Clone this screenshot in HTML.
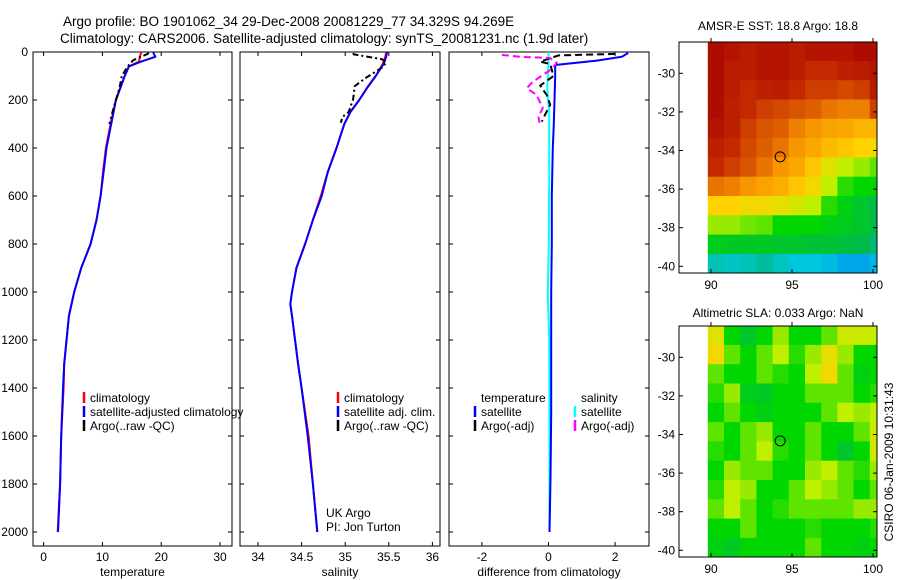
<!DOCTYPE html>
<html><head><meta charset="utf-8"><style>
html,body{margin:0;padding:0;background:#fff;}
svg{display:block;font-family:"Liberation Sans",Arial,sans-serif;}
</style></head><body>
<svg id="fig" width="900" height="580" viewBox="0 0 900 580" xmlns="http://www.w3.org/2000/svg">
<rect x="0" y="0" width="900" height="580" fill="#fff"/>
<text x="63" y="26" font-size="13.5">Argo profile: BO 1901062_34 29-Dec-2008 20081229_77 34.329S 94.269E</text>
<text x="60" y="43" font-size="13.5">Climatology: CARS2006. Satellite-adjusted climatology: synTS_20081231.nc (1.9d later)</text>
<text x="778" y="30" font-size="12" text-anchor="middle">AMSR-E SST: 18.8 Argo: 18.8</text>
<text x="778" y="317" font-size="12" text-anchor="middle">Altimetric SLA: 0.033 Argo: NaN</text>
<text transform="translate(893,462) rotate(-90)" font-size="12" text-anchor="middle">CSIRO 06-Jan-2009 10:31:43</text>
<g id="plots"></g>
</svg>
<script>
// ---- profile data ----
const depthClim = [0,20,40,60,100,200,300,400,500,600,700,800,900,1000,1100,1300,1400,1600,1800,2000];
const tempSat   = [18.6,19.0,16.6,14.5,13.8,12.3,11.5,10.7,10.2,9.7,9.0,8.0,6.4,5.2,4.3,3.5,3.3,3.0,2.8,2.45];
const tempClim  = [16.6,16.4,16.2,14.5,13.8,12.3,11.4,10.6,10.1,9.7,9.0,8.0,6.4,5.2,4.3,3.5,3.4,3.0,2.8,2.4];
const depthSal  = [0,20,50,100,150,200,250,300,400,500,600,700,800,900,1000,1050,1100,1300,1400,1600,1800,2000];
const salSat    = [35.48,35.47,35.44,35.35,35.25,35.16,35.06,34.99,34.9,34.8,34.73,34.63,34.54,34.44,34.39,34.37,34.39,34.46,34.5,34.57,34.63,34.68];
const salClim   = [35.47,35.46,35.43,35.35,35.25,35.16,35.06,34.99,34.9,34.8,34.72,34.63,34.54,34.44,34.39,34.37,34.39,34.46,34.5,34.58,34.63,34.68];
const depthArgoT = [5,10,20,35,60,100,150,200,270,300];
const tempArgo   = [17.9,17.5,16.5,15.2,14.3,13.3,12.9,12.3,11.5,11.2];
const depthArgoS = [5,10,30,40,61,109,142,200,228,250,270,295];
const salArgo    = [35.09,35.1,35.42,35.47,35.44,35.23,35.11,35.09,35.06,35.04,34.97,34.95];
const depthDiff  = [4,20,36,54,100,200,300,400,600,800,1000,1300,1500,1780,2000];
const diffTSat   = [2.39,2.2,1.45,0.2,0.2,0.18,0.16,0.13,0.1,0.1,0.08,0.08,0.08,0.06,0.03];
const depthDiffS = [0,50,150,250,500,800,1000,1200,1600,2000];
const diffSSat   = [0.0,0.0,-0.04,0.02,0.02,0.01,-0.02,0.02,0.03,0.03];
const depthDiffAT = [8,14,40,50,100,140,180,220,260,290];
const diffTArgo   = [2.0,0.3,-0.25,0.05,0.15,-0.25,-0.05,0.05,-0.1,-0.2];
const depthDiffAS = [12,20,25,46,75,124,150,179,233,270,295];
const diffSArgo   = [-1.4,-0.85,0.05,0.25,0.05,-0.47,-0.65,-0.36,-0.17,-0.3,-0.27];
const depthTicks = [0,200,400,600,800,1000,1200,1400,1600,1800,2000];
const tempTicks = [0,10,20,30];
const salTicks = ["34","34.5","35","35.5","36"];
const diffTicks = [-2,0,2];
// ---- map data (1-degree cells, colour index 0..1) ----
const mapLats = [-28.86,-29.86,-30.86,-31.86,-32.86,-33.86,-34.86,-35.86,-36.86,-37.86,-38.86,-39.86];
const mapLons = [90.3,91.3,92.3,93.3,94.3,95.3,96.3,97.3,98.3,99.3,100.3];
const sstGrid = [
[0.97,0.95,0.93,0.95,0.95,0.93,0.95,0.95,0.95,0.97,0.97],
[0.97,0.93,0.93,0.95,0.95,0.93,0.9,0.9,0.92,0.93,0.95],
[0.97,0.93,0.9,0.92,0.93,0.9,0.88,0.88,0.87,0.88,0.93],
[0.97,0.92,0.9,0.88,0.87,0.86,0.85,0.83,0.82,0.82,0.88],
[0.95,0.92,0.88,0.86,0.85,0.82,0.8,0.78,0.77,0.75,0.75],
[0.92,0.9,0.87,0.85,0.83,0.8,0.77,0.74,0.72,0.7,0.68],
[0.9,0.88,0.86,0.83,0.8,0.77,0.72,0.65,0.6,0.58,0.55],
[0.83,0.82,0.8,0.78,0.76,0.72,0.68,0.6,0.52,0.5,0.5],
[0.7,0.7,0.68,0.68,0.66,0.63,0.6,0.52,0.48,0.45,0.42],
[0.58,0.58,0.56,0.55,0.5,0.5,0.5,0.48,0.47,0.45,0.42],
[0.47,0.46,0.46,0.46,0.45,0.45,0.44,0.44,0.43,0.42,0.38],
[0.33,0.32,0.33,0.35,0.32,0.3,0.3,0.28,0.25,0.25,0.27]];
const slaGrid = [
[0.65,0.5,0.45,0.5,0.58,0.5,0.5,0.55,0.62,0.62,0.6],
[0.68,0.55,0.5,0.55,0.6,0.52,0.58,0.66,0.58,0.5,0.5],
[0.55,0.5,0.5,0.55,0.52,0.5,0.6,0.68,0.55,0.48,0.5],
[0.52,0.58,0.47,0.46,0.5,0.5,0.55,0.55,0.55,0.5,0.52],
[0.5,0.55,0.5,0.48,0.5,0.5,0.5,0.55,0.6,0.58,0.6],
[0.55,0.5,0.55,0.58,0.5,0.5,0.55,0.5,0.5,0.55,0.62],
[0.52,0.5,0.55,0.6,0.52,0.5,0.55,0.5,0.45,0.5,0.62],
[0.5,0.58,0.55,0.55,0.5,0.5,0.58,0.6,0.55,0.52,0.58],
[0.52,0.6,0.58,0.5,0.5,0.55,0.6,0.58,0.55,0.5,0.55],
[0.55,0.6,0.55,0.5,0.52,0.55,0.55,0.55,0.55,0.58,0.58],
[0.5,0.5,0.55,0.5,0.5,0.5,0.52,0.5,0.5,0.5,0.52],
[0.48,0.46,0.5,0.5,0.5,0.5,0.55,0.5,0.5,0.48,0.5]];
const argoLon = 94.269, argoLat = -34.329;
const latTicks = [-30,-32,-34,-36,-38,-40];
const lonTicks = [90,95,100];

const NS = "http://www.w3.org/2000/svg";
const root = document.getElementById('plots');
function mk(tag, attrs, parent){ const e=document.createElementNS(NS,tag); for(const k in attrs) e.setAttribute(k,attrs[k]); (parent||root).appendChild(e); return e; }

const y = d => 52 + d*0.24;
const panels = [
 {name:'temperature-panel', x0:33, x1:232, fx:v=>43.6+v*5.88, ticks:tempTicks, label:'temperature'},
 {name:'salinity-panel', x0:240, x1:440, fx:v=>258+(v-34)*87.2, ticks:salTicks, label:'salinity'},
 {name:'difference-panel', x0:449, x1:649, fx:v=>548.5+v*33.3, ticks:diffTicks, label:'difference from climatology'}
];
const yBot = 546;
panels.forEach((p,i)=>{
  const g = mk('g',{});
  
  
  const fr = mk('rect',{x:p.x0,y:52,width:p.x1-p.x0,height:yBot-52,fill:'none',stroke:'#000','stroke-width':1},g);
  
  
  depthTicks.forEach(d=>{
    mk('line',{x1:p.x0,x2:p.x0+4,y1:y(d),y2:y(d),stroke:'#000'},g);
    mk('line',{x1:p.x1,x2:p.x1-4,y1:y(d),y2:y(d),stroke:'#000'},g);
    if(i===0){
      const t = mk('text',{x:28,y:y(d)+4,'font-size':12,'text-anchor':'end'},g);
      t.textContent = d;
      
      
    }
  });
  p.ticks.forEach(v=>{
    const xv = p.fx(parseFloat(v));
    mk('line',{x1:xv,x2:xv,y1:yBot,y2:yBot-4,stroke:'#000'},g);
    mk('line',{x1:xv,x2:xv,y1:52,y2:56,stroke:'#000'},g);
    const t = mk('text',{x:xv,y:561,'font-size':12,'text-anchor':'middle'},g);
    t.textContent = v;
    
    
  });
  const lab = mk('text',{x:(p.x0+p.x1)/2,y:576,'font-size':12,'text-anchor':'middle'},g);
  lab.textContent = p.label;
  
  
  p.g = g;
});

function line(panel, ds, vs, color, dash, name, w){
  const pts = ds.map((d,k)=>panel.fx(vs[k]).toFixed(1)+','+y(d).toFixed(1)).join(' ');
  const el = mk('polyline',{points:pts,fill:'none',stroke:color,'stroke-width':w||2,'stroke-dasharray':dash||'none','stroke-linejoin':'round'},panel.g);
  
  
}
const [P1,P2,P3] = panels;
line(P1, depthClim, tempClim, '#ff0000', null, 'temp-climatology-line');
line(P1, depthClim, tempSat, '#0000ff', null, 'temp-satellite-line');
line(P1, depthArgoT, tempArgo, '#000', '6,3,2,3', 'temp-argo-line');
line(P2, depthSal, salClim, '#ff0000', null, 'sal-climatology-line');
line(P2, depthSal, salSat, '#0000ff', null, 'sal-satellite-line');
line(P2, depthArgoS, salArgo, '#000', '6,3,2,3', 'sal-argo-line');
line(P3, depthDiffS, diffSSat, '#00ffff', null, 'diff-sal-satellite-line');
line(P3, depthDiff, diffTSat, '#0000ff', null, 'diff-temp-satellite-line');
line(P3, depthDiffAT, diffTArgo, '#000', '7,4', 'diff-temp-argo-line');
line(P3, depthDiffAS, diffSArgo, '#ff00ff', '7,4', 'diff-sal-argo-line');

function legend(g, x, yy, color, text, name){
  const gg = mk('g',{},g);
  
  
  if(color) mk('line',{x1:x,x2:x,y1:yy-10,y2:yy+1,stroke:color,'stroke-width':2.5},gg);
  const t = mk('text',{x:x+6,y:yy,'font-size':12},gg);
  t.textContent = text;
}
legend(P1.g, 84, 402, '#ff0000', 'climatology', 'legend-climatology');
legend(P1.g, 84, 416, '#0000ff', 'satellite-adjusted climatology', 'legend-satellite');
legend(P1.g, 84, 430, '#000', 'Argo(..raw -QC)', 'legend-argo');
legend(P2.g, 338, 402, '#ff0000', 'climatology', 'legend-climatology');
legend(P2.g, 338, 416, '#0000ff', 'satellite adj. clim.', 'legend-satellite');
legend(P2.g, 338, 430, '#000', 'Argo(..raw -QC)', 'legend-argo');
legend(P3.g, 475, 402, null, 'temperature', 'legend-temperature-header');
legend(P3.g, 475, 416, '#0000ff', 'satellite', 'legend-temp-satellite');
legend(P3.g, 475, 430, '#000', 'Argo(-adj)', 'legend-temp-argo');
legend(P3.g, 575, 402, null, 'salinity', 'legend-salinity-header');
legend(P3.g, 575, 416, '#00ffff', 'satellite', 'legend-sal-satellite');
legend(P3.g, 575, 430, '#ff00ff', 'Argo(-adj)', 'legend-sal-argo');
const uk = mk('text',{x:326,y:517,'font-size':12},P2.g); uk.textContent='UK Argo';


const pi = mk('text',{x:326,y:531,'font-size':12},P2.g); pi.textContent='PI: Jon Turton';



// ---- maps ----
const stops = [[0,0,0,180],[0.15,0,100,255],[0.3,0,200,220],[0.4,0,180,90],[0.5,0,215,0],[0.6,190,240,0],[0.7,255,210,0],[0.8,248,150,0],[0.9,195,40,0],[1,165,0,0]];
function cmap(v){
  for(let i=1;i<stops.length;i++){ if(v<=stops[i][0]){ const a=stops[i-1],b=stops[i],t=(v-a[0])/(b[0]-a[0]);
    return 'rgb('+[1,2,3].map(k=>Math.round(a[k]+(b[k]-a[k])*t)).join(',')+')'; } }
  return 'rgb(165,0,0)';
}
function drawMap(name, grid, dy){
  const fx = lon => 711 + (lon-90)*16.2;
  const fy = lat => 73.3 + dy + (-30-lat)*19.3;
  const g = mk('g',{});
  
  
  const clip = mk('clipPath',{id:name+'-clip'},g);
  mk('rect',{x:679,y:42+dy,width:198,height:231},clip);
  const cells = mk('g',{'clip-path':'url(#'+name+'-clip)'},g);
  grid.forEach((row,r)=>row.forEach((v,c)=>{
    const lon0 = mapLons[c]-0.5, lat0 = mapLats[r]+0.5;
    const cell = mk('rect',{x:fx(lon0).toFixed(1),y:fy(lat0).toFixed(1),width:16.8,height:19.9,fill:cmap(v)},cells);
    
    
  }));
  const fr = mk('rect',{x:679,y:42+dy,width:198,height:231,fill:'none',stroke:'#000'},g);
  
  
  latTicks.forEach(l=>{
    const yy = fy(l);
    mk('line',{x1:679,x2:683,y1:yy,y2:yy,stroke:'#000'},g);
    mk('line',{x1:877,x2:873,y1:yy,y2:yy,stroke:'#000'},g);
    const t = mk('text',{x:675,y:yy+4,'font-size':12,'text-anchor':'end'},g);
    t.textContent = l;
    
    
  });
  lonTicks.forEach(l=>{
    const xx = fx(l);
    mk('line',{x1:xx,x2:xx,y1:273+dy,y2:269+dy,stroke:'#000'},g);
    mk('line',{x1:xx,x2:xx,y1:42+dy,y2:38+dy,stroke:'#000'},g);
    const t = mk('text',{x:xx,y:289+dy,'font-size':12,'text-anchor':'middle'},g);
    t.textContent = l;
    
    
  });
  const m = mk('circle',{cx:fx(argoLon),cy:fy(argoLat),r:5,fill:'none',stroke:'#000','stroke-width':1},g);
  
  
}
drawMap('sst-map', sstGrid, 0);
drawMap('sla-map', slaGrid, 284);
</script>
</body></html>
